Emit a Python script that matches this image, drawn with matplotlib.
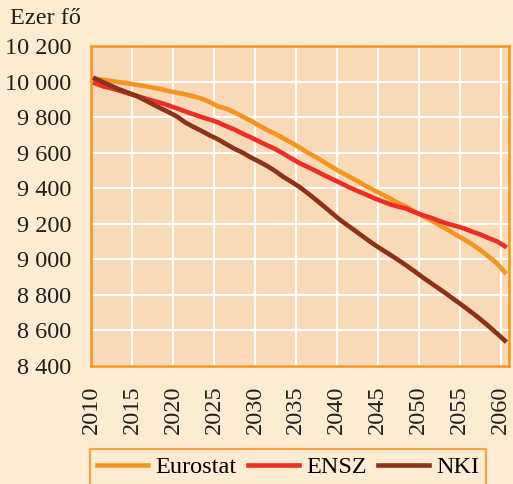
import matplotlib.pyplot as plt
import numpy as np

# yearly population forecasts, thousand people
years = list(range(2010, 2061))
eurostat = [10014, 10010, 10003, 9996, 9990, 9982, 9975, 9966, 9958, 9946,
            9937, 9928, 9916, 9904, 9884, 9860, 9848, 9827, 9803, 9780,
            9752, 9727, 9705, 9680, 9655, 9628, 9598, 9574, 9545, 9517,
            9490, 9466, 9440, 9414, 9389, 9366, 9342, 9316, 9296, 9268,
            9243, 9220, 9192, 9167, 9140, 9113, 9085, 9053, 9016, 8980,
            8927]
ensz = [9990, 9973, 9962, 9948, 9934, 9920, 9906, 9893, 9880, 9865,
        9849, 9832, 9816, 9800, 9786, 9770, 9749, 9730, 9707, 9686,
        9663, 9641, 9620, 9594, 9566, 9540, 9518, 9496, 9472, 9450,
        9428, 9405, 9385, 9366, 9345, 9327, 9310, 9296, 9285, 9265,
        9248, 9234, 9216, 9200, 9188, 9174, 9156, 9140, 9120, 9102,
        9074]
nki = [10017, 9996, 9975, 9955, 9938, 9920, 9897, 9873, 9850, 9827,
       9803, 9770, 9745, 9722, 9697, 9675, 9648, 9622, 9600, 9573,
       9550, 9525, 9496, 9463, 9435, 9405, 9370, 9333, 9295, 9256,
       9218, 9185, 9152, 9118, 9085, 9055, 9026, 8996, 8965, 8932,
       8898, 8866, 8834, 8802, 8768, 8735, 8700, 8664, 8625, 8585,
       8543]
y_ticks = [8400, 8600, 8800, 9000, 9200, 9400, 9600, 9800, 10000, 10200]

plt.rcParams['font.family'] = ['Liberation Serif', 'DejaVu Serif']

bg = '#fdebd2'
orange = '#f7941d'

fig = plt.figure(figsize=(5.13, 4.84), dpi=100, facecolor=bg)
ax = fig.add_axes([0.1774, 0.2438, 0.8146, 0.6612])
ax.set_facecolor('#f8dab9')

# category axis: each year sits in the middle of its slot
x = np.arange(len(years)) + 0.5
ax.plot(x, eurostat, color=orange, lw=3.3, label='Eurostat', zorder=3)
ax.plot(x, ensz, color='#ee2d24', lw=3.3, label='ENSZ', zorder=3)
ax.plot(x, nki, color='#8b3219', lw=3.3, label='NKI', zorder=4)

ax.set_xlim(0, len(years))
ax.set_ylim(8400, 10200)
ax.set_xticks(np.arange(0, len(years), 5))
ax.set_xticklabels([str(y) for y in years[::5]], rotation=90)
ax.set_yticks(y_ticks)
ax.set_yticklabels([f'{v:,}'.replace(',', ' ') for v in y_ticks])
ax.tick_params(length=0, labelsize=17.5, colors='#231f20', pad=14)
ax.tick_params(axis='x', pad=14)
ax.grid(True, color='white', lw=1.5)
ax.set_axisbelow(True)
for s in ax.spines.values():
    s.set_color(orange)
    s.set_linewidth(1.8)

fig.text(0.02, 0.962, 'Ezer fő', fontsize=17.5, color='#231f20', va='center')

leg = fig.legend(loc='center', bbox_to_anchor=(0.562, 0.035), ncol=3,
                 fontsize=17.5, frameon=True, fancybox=False,
                 handlelength=2.1, columnspacing=0.45, handletextpad=0.3,
                 borderpad=0.3, borderaxespad=0.2)
leg.get_frame().set_edgecolor(orange)
leg.get_frame().set_facecolor(bg)
leg.get_frame().set_linewidth(1.5)

fig.savefig('out.png', dpi=100, facecolor=bg)
